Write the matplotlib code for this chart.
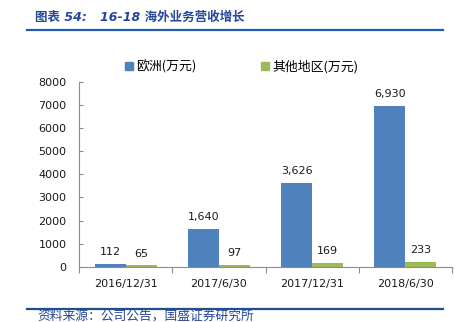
import matplotlib
matplotlib.use("Agg")
import matplotlib.pyplot as plt
from matplotlib.patches import Patch
import numpy as np

plt.rcParams['font.family'] = ['DejaVu Sans', 'Noto Sans CJK SC']

categories = ["2016/12/31", "2017/6/30", "2017/12/31", "2018/6/30"]
europe = [112, 1640, 3626, 6930]
other = [65, 97, 169, 233]
series_names = ["欧洲(万元)", "其他地区(万元)"]
yticks = [0, 1000, 2000, 3000, 4000, 5000, 6000, 7000, 8000]

blue = "#4F81BD"
green = "#9BBB59"
title_color = "#24479A"
rule_color = "#1F5CB5"
axis_grey = "#8C8C8C"

W, H = 456, 322
fig = plt.figure(figsize=(W / 100, H / 100), dpi=100)
ax = fig.add_axes([79 / W, 1 - 267 / H, 373 / W, (267 - 81.5) / H])

x = np.arange(len(categories))
bw = 1 / 3
b1 = ax.bar(x - bw / 2, europe, width=bw, color=blue)
b2 = ax.bar(x + bw / 2, other, width=bw, color=green)

for bars, vals in ((b1, europe), (b2, other)):
    for r, v in zip(bars, vals):
        ax.annotate(f"{v:,}", (r.get_x() + r.get_width() / 2, r.get_height()),
                    xytext=(0, 5), textcoords="offset points",
                    ha="center", va="bottom", fontsize=8, color="#1a1a1a")

ax.set_xlim(-0.5, len(categories) - 0.5)
ax.set_ylim(0, 8000)
ax.set_yticks(yticks)
ax.set_yticklabels([str(t) for t in yticks])
ax.tick_params(axis="y", direction="in", length=3, width=0.8, color=axis_grey,
               labelsize=8, pad=9, labelcolor="#1a1a1a")

ax.set_xticks(x)
ax.set_xticklabels(categories)
ax.tick_params(axis="x", which="major", length=0, labelsize=8, pad=9,
               labelcolor="#1a1a1a")
ax.set_xticks(np.arange(len(categories) + 1) - 0.5, minor=True)
ax.tick_params(axis="x", which="minor", direction="out", length=4, width=0.8,
               color=axis_grey)

for side in ("top", "right"):
    ax.spines[side].set_visible(False)
for side in ("left", "bottom"):
    ax.spines[side].set_color(axis_grey)
    ax.spines[side].set_linewidth(0.8)

handles = [Patch(color=blue), Patch(color=green)]
fig.legend(handles, series_names, loc="center", bbox_to_anchor=(242 / W, 1 - 67 / H),
           ncol=2, frameon=False, handlelength=0.55, handleheight=0.55,
           handletextpad=0.3, columnspacing=5.0,
           prop={"family": ["Noto Sans CJK SC", "DejaVu Sans"], "size": 9.3})

# header and footer
fig.text(35 / W, 1 - 17 / H, "图表 54:   16-18 海外业务营收增长", ha="left", va="center",
         fontsize=9, color=title_color, style="italic", fontweight="semibold",
         family=["DejaVu Sans", "Noto Sans CJK SC"])
fig.add_artist(plt.Line2D([27 / W, 443 / W], [1 - 30 / H, 1 - 30 / H],
                          color=rule_color, linewidth=1.6))
fig.add_artist(plt.Line2D([27 / W, 443 / W], [1 - 308.5 / H, 1 - 308.5 / H],
                          color="#1F4E8F", linewidth=1.6))
fig.text(37 / W, 1 - 316.5 / H, "资料来源：公司公告，国盛证券研究所", ha="left", va="center",
         fontsize=9.2, color=title_color, style="italic",
         family=["Noto Sans CJK SC", "DejaVu Sans"])

fig.savefig("out.png", dpi=100)
